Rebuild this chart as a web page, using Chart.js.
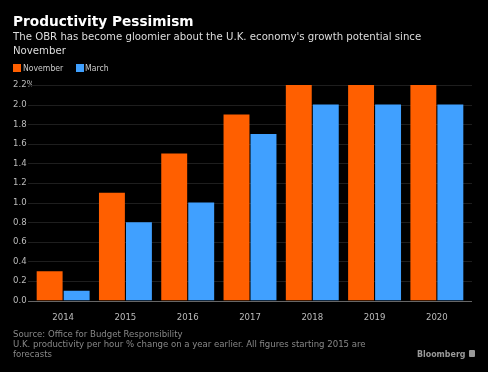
<!DOCTYPE html>
<html>
<head>
<meta charset="utf-8">
<script src="https://cdn.jsdelivr.net/npm/chart.js@4/dist/chart.umd.min.js"></script>
<style>
  html,body{margin:0;padding:0;background:#000;}
  #wrap{position:relative;width:488px;height:372px;overflow:hidden;background:#000;font-family:"DejaVu Sans Condensed","DejaVu Sans",sans-serif;}
  #c{position:absolute;left:0;top:0;}
  .t{position:absolute;white-space:nowrap;}
  #title{left:13px;top:14.3px;font:bold 13.7px/14px "DejaVu Sans",sans-serif;color:#fff;}
  #sub{left:13px;top:30px;font-size:11.3px;line-height:14px;color:#ddd;}
  .lg{position:absolute;top:63.6px;font-size:8.6px;line-height:9px;color:#ccc;}
  .sw{position:absolute;top:64px;width:8px;height:8px;}
  #foot{left:13px;top:329px;font-size:9.5px;line-height:10px;color:#888;}
  #brand{left:417px;top:349px;font-weight:bold;font-size:8.8px;line-height:10px;color:#999;}
  #logo{position:absolute;left:469px;top:350px;width:6px;height:7px;background:#999;border-radius:1px;}
</style>
</head>
<body>
<div id="wrap">
  <canvas id="c" width="488" height="372"></canvas>
  <div class="t" id="title">Productivity Pessimism</div>
  <div class="t" id="sub">The OBR has become gloomier about the U.K. economy's growth potential since<br>November</div>
  <div class="sw" style="left:13px;background:#ff5f00"></div>
  <div class="lg" style="left:23px">November</div>
  <div class="sw" style="left:76px;background:#40a0ff"></div>
  <div class="lg" style="left:85px">March</div>
  <div class="t" id="foot">Source: Office for Budget Responsibility<br>U.K. productivity per hour % change on a year earlier. All figures starting 2015 are<br>forecasts</div>
  <div class="t" id="brand">Bloomberg</div>
  <div id="logo"></div>
</div>
<script>
const years = ['2014','2015','2016','2017','2018','2019','2020'];
const november = [0.3, 1.1, 1.5, 1.9, 2.2, 2.2, 2.2];
const march = [0.1, 0.8, 1.0, 1.7, 2.0, 2.0, 2.0];
const yTicks = [0, 0.2, 0.4, 0.6, 0.8, 1.0, 1.2, 1.4, 1.6, 1.8, 2.0, 2.2];

const orange = '#ff5f00';
const blue = '#40a0ff';

// grid lines run a bit past the plot area, like the original
const wideGrid = {
  id:'wideGrid',
  beforeDatasetsDraw(chart){
    const ctx = chart.ctx, y = chart.scales.y, a = chart.chartArea;
    ctx.save();
    ctx.lineWidth = 1;
    yTicks.forEach(v=>{
      const py = Math.round(y.getPixelForValue(v)) + 0.5;
      ctx.strokeStyle = v === 0 ? '#666' : '#1e1e1e';
      ctx.beginPath();
      ctx.moveTo(a.left - 4, py);
      ctx.lineTo(a.right + 4, py);
      ctx.stroke();
    });
    ctx.restore();
  }
};

new Chart(document.getElementById('c'), {
  type:'bar',
  data:{
    labels: years,
    datasets:[
      {label:'November', data:november, backgroundColor:orange},
      {label:'March', data:march, backgroundColor:blue}
    ]
  },
  options:{
    responsive:false,
    animation:false,
    layout:{padding:{left:13, right:20, top:85, bottom:0}},
    plugins:{legend:{display:false}, tooltip:{enabled:false}},
    datasets:{bar:{categoryPercentage:0.867, barPercentage:0.96}},
    scales:{
      x:{
        grid:{display:false},
        border:{display:false},
        ticks:{color:'#bbb', font:{family:'"DejaVu Sans Condensed"', size:9.5}, padding:3},
        afterFit(s){ s.height = 71.4; }
      },
      y:{
        min:0, max:2.2,
        afterBuildTicks(s){ s.ticks = yTicks.map(v=>({value:v})); },
        grid:{display:false},
        border:{display:false},
        ticks:{
          color:'#bbb', font:{family:'"DejaVu Sans Condensed"', size:9.5},
          crossAlign:'far', padding:0,
          callback:v => Math.abs(v-2.2) < 1e-6 ? '2.2%' : v.toFixed(1)
        },
        afterFit(s){ s.width = 19; }
      }
    }
  },
  plugins:[wideGrid]
});
</script>
</body>
</html>
